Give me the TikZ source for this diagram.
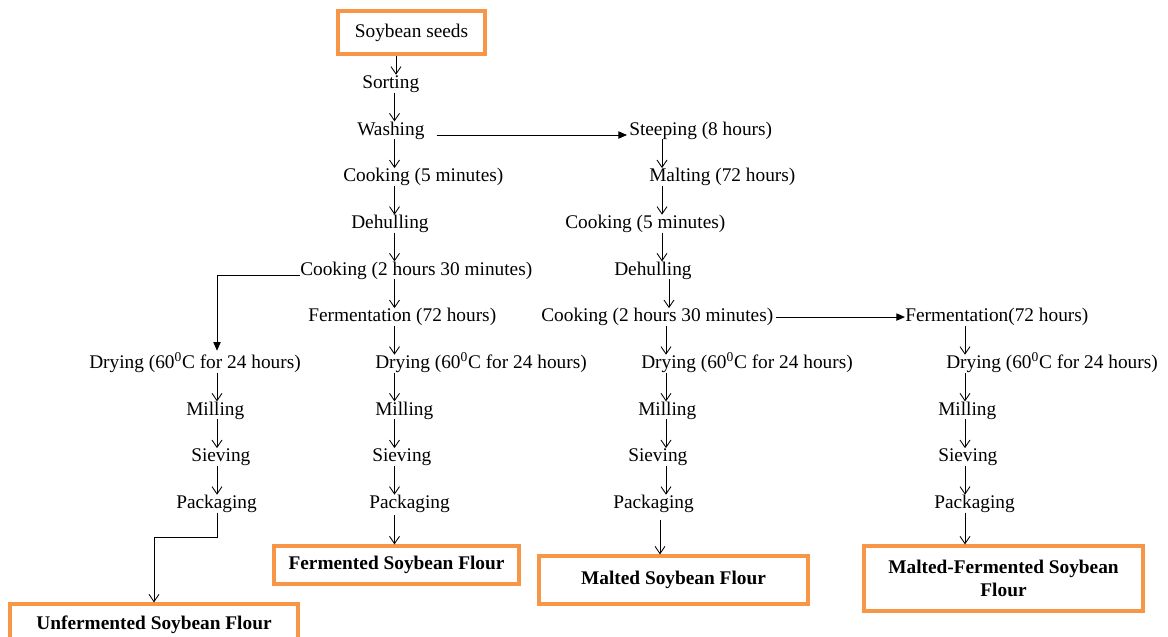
\documentclass[tikz,border=0pt]{standalone}
\usepackage{fontspec}
\setmainfont{Liberation Serif}
\usetikzlibrary{arrows.meta}
\definecolor{boxorange}{RGB}{247,150,70}
\newcommand{\fsz}{\fontsize{14.5pt}{17pt}\selectfont}
\tikzset{
  txt/.style={inner sep=0pt, text height=10pt, text depth=3pt, anchor=base west, font=\fsz},
  outbox/.style={draw=boxorange, line width=2.4pt, inner sep=0pt, align=center, font=\fsz\bfseries},
  arr/.style={-{Straight Barb[length=5.5pt,width=7.5pt]}, line width=0.65pt},
  tri/.style={-{Triangle[length=6.5pt,width=5.5pt]}, line width=0.65pt}
}
\begin{document}
\begin{tikzpicture}[x=0.75pt,y=-0.75pt]
\useasboundingbox[fill=white] (0,0) rectangle (1168,636);
% x positions of the vertical connectors
\coordinate (xA0) at (396,0);
\coordinate (xA) at (394.5,0);
\coordinate (xL) at (217,0);
\coordinate (xU) at (154,0);
\coordinate (xB1) at (662,0);
\coordinate (xB2) at (669,0);
\coordinate (xB3) at (666,0);
\coordinate (xB4) at (660,0);
\coordinate (xC) at (965,0);
\coordinate (k1) at (217,537);
\coordinate (k2) at (154,537);

% start box
\node[outbox, font=\fsz, minimum width=110.25pt, minimum height=32.25pt] (seeds) at (411.5,32.5) {Soybean seeds};

% column A
\node[txt] (sortA) at (362,88.3) {Sorting};
\node[txt] (washA) at (357,135) {Washing};
\node[txt] (cook5A) at (343,181.7) {Cooking (5 minutes)};
\node[txt] (dehA) at (351,228.3) {Dehulling};
\node[txt] (cook2A) at (300,275) {Cooking (2 hours 30 minutes)};
\node[txt] (fermA) at (308,321.7) {Fermentation (72 hours)};
\node[txt] (dryA) at (375,368.3) {Drying (60\textsuperscript{0}C for 24 hours)};
\node[txt] (millA) at (375,415) {Milling};
\node[txt] (sievA) at (372,461.7) {Sieving};
\node[txt] (packA) at (369,508.3) {Packaging};
\node[outbox, minimum width=183.75pt, minimum height=28.5pt] (fermBox) at (396.5,565) {Fermented Soybean Flour};

% left column
\node[txt] (dryL) at (89,368.3) {Drying (60\textsuperscript{0}C for 24 hours)};
\node[txt] (millL) at (186,415) {Milling};
\node[txt] (sievL) at (191,461.7) {Sieving};
\node[txt] (packL) at (176,508.3) {Packaging};
\node[outbox, minimum width=216pt, minimum height=31.5pt] (unfBox) at (154,625) {Unfermented Soybean Flour};

% column B
\node[txt] (steep) at (629,135) {Steeping (8 hours)};
\node[txt] (malt) at (649,181.7) {Malting (72 hours)};
\node[txt] (cook5B) at (565,228.3) {Cooking (5 minutes)};
\node[txt] (dehB) at (614,275) {Dehulling};
\node[txt] (cook2B) at (541,321.7) {Cooking (2 hours 30 minutes)};
\node[txt] (dryB) at (641,368.3) {Drying (60\textsuperscript{0}C for 24 hours)};
\node[txt] (millB) at (638,415) {Milling};
\node[txt] (sievB) at (628,461.7) {Sieving};
\node[txt] (packB) at (613,508.3) {Packaging};
\node[outbox, minimum width=201.75pt, minimum height=36pt] (maltBox) at (673.5,580) {Malted Soybean Flour};

% column C
\node[txt] (fermC) at (905,321.7) {Fermentation(72 hours)};
\node[txt] (dryC) at (946,368.3) {Drying (60\textsuperscript{0}C for 24 hours)};
\node[txt] (millC) at (938,415) {Milling};
\node[txt] (sievC) at (938,461.7) {Sieving};
\node[txt] (packC) at (934,508.3) {Packaging};
\node[outbox, minimum width=209.25pt, minimum height=48.75pt] (mfBox) at (1003.5,578.5) {Malted-Fermented Soybean\\Flour};

% connectors, column A
\draw[arr] (seeds.south -| xA0) -- (sortA.north -| xA0);
\draw[arr] (sortA.south -| xA) -- (washA.north -| xA);
\draw[arr] (washA.south -| xA) -- (cook5A.north -| xA);
\draw[arr] (cook5A.south -| xA) -- (dehA.north -| xA);
\draw[arr] (dehA.south -| xA) -- (cook2A.north -| xA);
\draw[arr] (cook2A.south -| xA) -- (fermA.north -| xA);
\draw[arr] (fermA.south -| xA) -- (dryA.north -| xA);
\draw[arr] (dryA.south -| xA) -- (millA.north -| xA);
\draw[arr] (millA.south -| xA) -- (sievA.north -| xA);
\draw[arr] (sievA.south -| xA) -- (packA.north -| xA);
\draw[arr, shorten <=2pt] (packA.south -| xA) -- (fermBox.north -| xA);

% left branch
\draw[tri, shorten >=3pt] (cook2A.base west) -| (dryL.north -| xL);
\draw[arr] (dryL.south -| xL) -- (millL.north -| xL);
\draw[arr] (millL.south -| xL) -- (sievL.north -| xL);
\draw[arr] (sievL.south -| xL) -- (packL.north -| xL);
\draw[arr] (packL.south -| xL) -- (k1) -- (k2) -- (unfBox.north -| xU);

% column B
\draw[tri, shorten >=1.5pt] ([xshift=9pt]washA.base east) -- (steep.base west);
\draw[arr] (steep.south -| xB1) -- (malt.north -| xB1);
\draw[arr] (malt.south -| xB1) -- (cook5B.north -| xB1);
\draw[arr] (cook5B.south -| xB1) -- (dehB.north -| xB1);
\draw[arr] (dehB.south -| xB2) -- (cook2B.north -| xB2);
\draw[arr] (cook2B.south -| xB3) -- (dryB.north -| xB3);
\draw[arr] (dryB.south -| xB3) -- (millB.north -| xB3);
\draw[arr] (millB.south -| xB3) -- (sievB.north -| xB3);
\draw[arr] (sievB.south -| xB3) -- (packB.north -| xB3);
\draw[arr, shorten <=5.5pt] (packB.south -| xB4) -- (maltBox.north -| xB4);

% column C
\draw[tri, shorten <=1.5pt] (cook2B.east) -- (fermC.west);
\draw[arr] (fermC.south -| xC) -- (dryC.north -| xC);
\draw[arr] (dryC.south -| xC) -- (millC.north -| xC);
\draw[arr] (millC.south -| xC) -- (sievC.north -| xC);
\draw[arr] (sievC.south -| xC) -- (packC.north -| xC);
\draw[arr] (packC.south -| xC) -- (mfBox.north -| xC);
\end{tikzpicture}
\end{document}
